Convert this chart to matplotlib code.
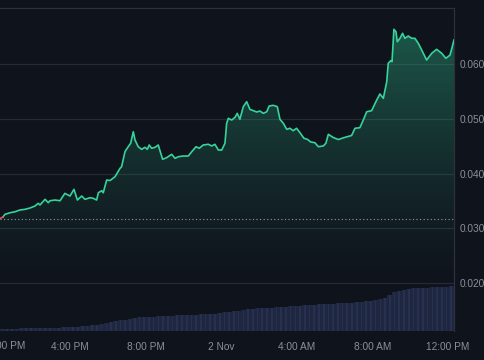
import numpy as np
import matplotlib
matplotlib.use("Agg")
import matplotlib.pyplot as plt
from matplotlib.colors import LinearSegmentedColormap

# ---- data (hours since 12:00 PM, 1 Nov) ----
times = [0.30, 0.45, 0.56, 0.83, 1.09, 1.35, 1.62, 1.88, 2.15, 2.32, 2.41, 2.68, 2.85, 2.94,
         3.21, 3.47, 3.73, 4.00, 4.21, 4.39, 4.62, 4.79, 5.06, 5.23, 5.41, 5.50, 5.68, 5.76,
         5.94, 6.12, 6.38, 6.65, 6.73, 6.91, 7.08, 7.21, 7.35, 7.44, 7.61, 7.79, 7.97, 8.09,
         8.19, 8.32, 8.50, 8.67, 8.90, 9.11, 9.38, 9.56, 9.73, 9.99, 10.26, 10.44, 10.67,
         10.84, 11.05, 11.32, 11.50, 11.67, 11.85, 12.03, 12.20, 12.29, 12.38, 12.56, 12.73,
         12.85, 12.99, 13.17, 13.35, 13.52, 13.70, 13.88, 14.05, 14.23, 14.41, 14.54, 14.76,
         14.97, 15.11, 15.29, 15.47, 15.64, 15.81, 15.99, 16.17, 16.38, 16.56, 16.74, 16.96,
         17.14, 17.40, 17.54, 17.67, 17.93, 18.20, 18.55, 18.90, 19.08, 19.34, 19.52, 19.70,
         19.96, 20.23, 20.40, 20.58, 20.76, 20.84, 20.97, 21.04, 21.14, 21.25, 21.32, 21.46,
         21.60, 21.72, 21.90, 22.08, 22.25, 22.43, 22.61, 22.87, 23.14, 23.40, 23.67, 23.89,
         24.11, 24.32]
prices = [0.03180, 0.03208, 0.03257, 0.03286, 0.03304, 0.03336, 0.03348, 0.03372, 0.03409,
          0.03458, 0.03427, 0.03531, 0.03469, 0.03505, 0.03518, 0.03505, 0.03640, 0.03591,
          0.03713, 0.03518, 0.03591, 0.03531, 0.03560, 0.03549, 0.03518, 0.03651, 0.03688,
          0.03651, 0.03883, 0.03874, 0.03943, 0.04097, 0.04126, 0.04400, 0.04491, 0.04553,
          0.04765, 0.04613, 0.04491, 0.04443, 0.04480, 0.04443, 0.04522, 0.04462, 0.04480,
          0.04522, 0.04261, 0.04290, 0.04352, 0.04279, 0.04308, 0.04321, 0.04321, 0.04399,
          0.04491, 0.04462, 0.04522, 0.04535, 0.04504, 0.04535, 0.04430, 0.04430, 0.04553,
          0.04918, 0.05009, 0.04978, 0.05027, 0.05100, 0.04991, 0.05221, 0.05312, 0.05173,
          0.05148, 0.05124, 0.05142, 0.05100, 0.05129, 0.05234, 0.05246, 0.05221, 0.04991,
          0.04918, 0.04808, 0.04827, 0.04783, 0.04827, 0.04746, 0.04644, 0.04626, 0.04577,
          0.04564, 0.04491, 0.04504, 0.04553, 0.04717, 0.04659, 0.04622, 0.04662, 0.04695,
          0.04827, 0.04838, 0.04978, 0.05129, 0.05148, 0.05343, 0.05453, 0.05374, 0.05677,
          0.06013, 0.06060, 0.06042, 0.06633, 0.06589, 0.06407, 0.06469, 0.06560, 0.06469,
          0.06511, 0.06469, 0.06469, 0.06378, 0.06256, 0.06073, 0.06195, 0.06268, 0.06195,
          0.06104, 0.06164, 0.06438]
base_price = 0.0318

# volume bars, one per 15 minutes starting at 12:18 PM
vol_start = 0.30
vol_step = 0.25
volumes = [2.2, 2.3, 2.4, 2.5, 2.6, 2.7, 2.8, 2.9, 3.0, 3.2, 3.3, 3.4, 3.5, 3.6, 3.8, 4.0,
           4.3, 5.0, 5.5, 5.8, 6.2, 7.0, 8.5, 9.5, 10.2, 10.8, 11.5, 12.3, 13.2, 13.6, 14.0,
           14.2, 14.5, 14.8, 15.0, 15.2, 15.4, 15.6, 15.9, 16.1, 16.3, 16.5, 16.8, 17.0, 17.2,
           17.5, 18.0, 18.6, 19.2, 19.7, 20.4, 21.2, 21.9, 22.4, 22.6, 22.8, 23.0, 23.3, 23.7,
           24.1, 24.5, 24.9, 25.2, 25.5, 25.9, 26.2, 26.5, 26.7, 27.0, 27.2, 27.4, 27.7, 27.9,
           28.1, 28.4, 28.9, 29.4, 29.9, 30.3, 30.9, 31.8, 33.2, 36.5, 39.0, 40.5, 41.5, 42.3,
           42.7, 43.0, 43.2, 43.4, 43.6, 43.8, 44.0, 44.3, 44.7]

xtick_pos = [4, 8, 12, 16, 20, 24]
xtick_labels = ["4:00 PM", "8:00 PM", "2 Nov", "4:00 AM", "8:00 AM", "12:00 PM"]
first_label = "12:00 PM"
ytick_pos = [0.020, 0.030, 0.040, 0.050, 0.060]
ytick_labels = ["0.020", "0.030", "0.040", "0.050", "0.060"]

# ---- style ----
BG = "#0f131c"
GRID = "#252a35"
TXT = "#8a8f99"
LINE = "#36d39b"
VOL = "#1f2640"
VOL2 = "#283050"
FONT = "Liberation Sans"

W, H = 485, 360
fig = plt.figure(figsize=(W / 100, H / 100), dpi=100, facecolor=BG)
rect = [0, 1 - 331 / H, 454 / W, 323 / H]
xlim = (0.296, 24.32)
ylim = (0.01128, 0.07022)

axv = fig.add_axes(rect, zorder=1)
axv.set_facecolor(BG)
axv.set_xlim(*xlim)
axv.set_ylim(0, 323)
axv.axis("off")
vt = [vol_start + vol_step * (i + 0.5) for i in range(len(volumes))]
axv.bar(vt, volumes, width=vol_step, color=VOL, linewidth=0)
axv.bar(vt, volumes, width=vol_step * 0.35, color=VOL2, linewidth=0)

ax = fig.add_axes(rect, zorder=2)
ax.patch.set_alpha(0)
ax.set_xlim(*xlim)
ax.set_ylim(*ylim)

# grid lines
for yv in ytick_pos:
    ax.axhline(yv, color=GRID, lw=0.9, zorder=1)

# gradient fill under price
t = np.array(times)
p = np.array(prices)
poly = ax.fill_between(t, p, ylim[0], color="none", lw=0)
g = np.linspace(0, 1, 256)
cols = [(0.21, 0.83, 0.61, 0.36 * v ** 1.4) for v in g]
cmap = LinearSegmentedColormap.from_list("g", cols)
grad = g.reshape(-1, 1)
img = ax.imshow(grad, extent=[xlim[0], xlim[1], 0.018, 0.0665], origin="lower",
                cmap=cmap, aspect="auto", zorder=2)
img.set_clip_path(poly.get_paths()[0], transform=ax.transData)

# baseline dotted
ax.axhline(base_price, color="#c8ccd4", lw=0.8, ls=(0, (1, 2.2)), alpha=0.7, zorder=3)

# price line
ax.plot(t[1:], p[1:], color=LINE, lw=1.2, zorder=4, solid_joinstyle="round")
ax.plot(t[:2], p[:2], color="#e0575b", lw=1.2, zorder=4)

# spines
for s in ["left", "bottom"]:
    ax.spines[s].set_visible(False)
for s in ["top", "right"]:
    ax.spines[s].set_color("#2c313c")
    ax.spines[s].set_linewidth(0.9)

ax.yaxis.tick_right()
ax.set_yticks(ytick_pos)
ax.set_yticklabels(ytick_labels)
ax.set_xticks(xtick_pos)
ax.set_xticklabels(xtick_labels)
ax.tick_params(axis="y", length=0, pad=4, labelsize=7.3, labelcolor=TXT)
ax.tick_params(axis="x", length=0, pad=7.8, labelsize=7.3, labelcolor=TXT)
for lab in ax.get_xticklabels() + ax.get_yticklabels():
    lab.set_fontfamily(FONT)

fig.text(25 / W, 1 - 346 / H, first_label, ha="right", va="center",
         fontsize=7.3, color=TXT, fontfamily=FONT)

fig.savefig("out.png", dpi=100, facecolor=BG)
